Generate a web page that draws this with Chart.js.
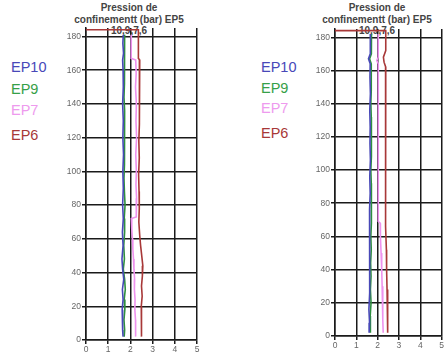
<!DOCTYPE html>
<html>
<head>
<meta charset="utf-8">
<script src="https://cdn.jsdelivr.net/npm/chart.js@4.4.1/dist/chart.umd.min.js"></script>
<style>
  html, body { margin: 0; padding: 0; background: #fff; }
  body { width: 445px; height: 356px; position: relative; overflow: hidden; font-family: "Liberation Sans", Arial, sans-serif; }
  .box { position: absolute; top: 0; height: 356px; }
  .legend { position: absolute; font-size: 14.5px; line-height: 14px; }
  .title { position: absolute; width: 150px; text-align: center; font-size: 10px; line-height: 11.5px; color: #444; font-weight: bold; }
</style>
</head>
<body>
<div class="title" style="left:54px; top:2px;">Pression de<br>confinementt (bar) EP5<br>10,9,7,6</div>
<div class="title" style="left:302px; top:2px;">Pression de<br>confinementt (bar) EP5<br>10,9,7,6</div>

<div class="legend" style="left:11px; top:60px; color:#4848b8;">EP10</div>
<div class="legend" style="left:11px; top:82px; color:#36a048;">EP9</div>
<div class="legend" style="left:11px; top:103px; color:#ee9aee;">EP7</div>
<div class="legend" style="left:11px; top:128px; color:#a83838;">EP6</div>

<div class="legend" style="left:261px; top:60px; color:#4848b8;">EP10</div>
<div class="legend" style="left:261px; top:81px; color:#36a048;">EP9</div>
<div class="legend" style="left:261px; top:101px; color:#ee9aee;">EP7</div>
<div class="legend" style="left:261px; top:126px; color:#a83838;">EP6</div>

<div class="box" style="left:60px; width:145px;"><canvas id="left" width="145" height="356"></canvas></div>
<div class="box" style="left:309px; width:136px;"><canvas id="right" width="136" height="356"></canvas></div>

<script>
// profile 1 (left)
const ep10L_depth = [181,176,170,166,160,150,140,130,120,110,100,90,80,72,64,56,48,42,36,30,24,18,12,6,2];
const ep10L_x     = [1.68,1.66,1.69,1.65,1.67,1.68,1.65,1.68,1.66,1.69,1.66,1.68,1.65,1.68,1.64,1.67,1.62,1.65,1.70,1.64,1.67,1.63,1.66,1.64,1.67];
const ep9L_depth  = [181,175,168,160,152,144,136,128,120,112,104,96,88,80,72,64,56,48,42,36,30,24,18,12,6,2];
const ep9L_x      = [1.74,1.72,1.75,1.72,1.74,1.71,1.74,1.72,1.75,1.72,1.74,1.71,1.73,1.76,1.72,1.74,1.70,1.73,1.68,1.74,1.77,1.72,1.75,1.71,1.74,1.72];
const ep7L_depth  = [181,174,167,166,158,150,140,130,120,110,100,92,84,78,73,72,66,60,54,48,42,36,30,24,18,12,6,2];
const ep7L_x      = [2.04,2.03,2.04,2.24,2.26,2.23,2.27,2.25,2.28,2.24,2.27,2.25,2.28,2.26,2.27,2.04,2.06,2.09,2.11,2.14,2.16,2.19,2.18,2.21,2.20,2.23,2.22,2.25];
const ep6L_depth  = [184,184,176,167,166,158,148,138,128,118,108,98,88,78,70,62,56,50,44,38,32,26,20,14,8,2];
const ep6L_x      = [0,2.36,2.36,2.36,2.42,2.40,2.42,2.39,2.41,2.38,2.40,2.37,2.39,2.40,2.38,2.42,2.46,2.51,2.56,2.54,2.50,2.53,2.49,2.52,2.48,2.50];

// profile 2 (right)
const ep10R_depth = [182,176,170,167,164,156,146,136,126,116,106,96,86,76,66,56,46,36,26,16,8,2];
const ep10R_x     = [1.66,1.65,1.66,1.57,1.65,1.64,1.66,1.63,1.65,1.64,1.66,1.63,1.65,1.62,1.64,1.62,1.64,1.60,1.63,1.59,1.62,1.60];
const ep9R_depth  = [182,176,170,167,164,156,148,140,132,124,116,108,100,92,84,76,68,60,52,44,36,28,20,12,6,2];
const ep9R_x      = [1.71,1.70,1.71,1.62,1.70,1.69,1.71,1.68,1.70,1.72,1.69,1.71,1.68,1.70,1.72,1.69,1.71,1.68,1.70,1.67,1.69,1.66,1.69,1.65,1.67,1.65];
const ep7R_depth  = [182,174,168,166,164,150,136,122,108,94,80,69,68,60,50,40,30,20,10,2];
const ep7R_x      = [2.03,2.02,2.03,1.96,2.03,2.02,2.04,2.02,2.03,2.02,2.04,2.03,2.12,2.13,2.16,2.19,2.21,2.23,2.25,2.26];
const ep6R_depth  = [184,184,172,168,165,162,150,136,122,108,94,80,66,52,40,28,16,8,2];
const ep6R_x      = [0,2.38,2.38,2.27,2.30,2.38,2.37,2.38,2.36,2.37,2.36,2.38,2.38,2.41,2.42,2.44,2.46,2.48,2.47];

const xTicks = [0, 1, 2, 3, 4, 5];
const depthTicks = [0, 20, 40, 60, 80, 100, 120, 140, 160, 180];

const colors = { ep10: '#4848b8', ep9: '#2f8f40', ep7: '#ee92ee', ep6: '#a83838' };

function pts(xs, ds) {
    return xs.map((v, i) => ({ x: v, y: ds[i] }));
}

function line(xs, ds, color) {
    return {
        data: pts(xs, ds),
        showLine: true,
        borderColor: color,
        backgroundColor: color,
        borderWidth: 1.6,
        pointRadius: 0,
        tension: 0
    };
}

function makeProfile(id, datasets, pad, axisH) {
    new Chart(document.getElementById(id), {
        type: 'scatter',
        data: { datasets: datasets },
        options: {
            responsive: false,
            animation: false,
            layout: { padding: pad },
            plugins: { legend: { display: false }, tooltip: { enabled: false } },
            scales: {
                x: {
                    type: 'linear', min: 0, max: 5,
                    afterBuildTicks: s => { s.ticks = xTicks.map(v => ({ value: v })); },
                    afterFit: s => { s.height = axisH; },
                    grid: { color: '#1a1a1a', lineWidth: 1.5, tickLength: 4 },
                    border: { color: '#1a1a1a', width: 1.5 },
                    ticks: { color: '#666', font: { size: 8.5, family: 'Liberation Sans' }, padding: 1, maxRotation: 0 }
                },
                y: {
                    type: 'linear', min: 0, max: 185,
                    afterBuildTicks: s => { s.ticks = depthTicks.map(v => ({ value: v })); },
                    afterFit: s => { s.width = 26; },
                    grid: { color: '#1a1a1a', lineWidth: 1.5, tickLength: 4 },
                    border: { color: '#1a1a1a', width: 1.5 },
                    ticks: { color: '#666', font: { size: 8.5, family: 'Liberation Sans' }, padding: 1 }
                }
            }
        }
    });
}

makeProfile('left', [
    line(ep10L_x, ep10L_depth, colors.ep10),
    line(ep9L_x, ep9L_depth, colors.ep9),
    line(ep7L_x, ep7L_depth, colors.ep7),
    line(ep6L_x, ep6L_depth, colors.ep6)
], { top: 28, right: 8, bottom: 0, left: 0 }, 16);

makeProfile('right', [
    line(ep10R_x, ep10R_depth, colors.ep10),
    line(ep9R_x, ep9R_depth, colors.ep9),
    line(ep7R_x, ep7R_depth, colors.ep7),
    line(ep6R_x, ep6R_depth, colors.ep6)
], { top: 29, right: 2, bottom: 0, left: 0 }, 20);
</script>
</body>
</html>
